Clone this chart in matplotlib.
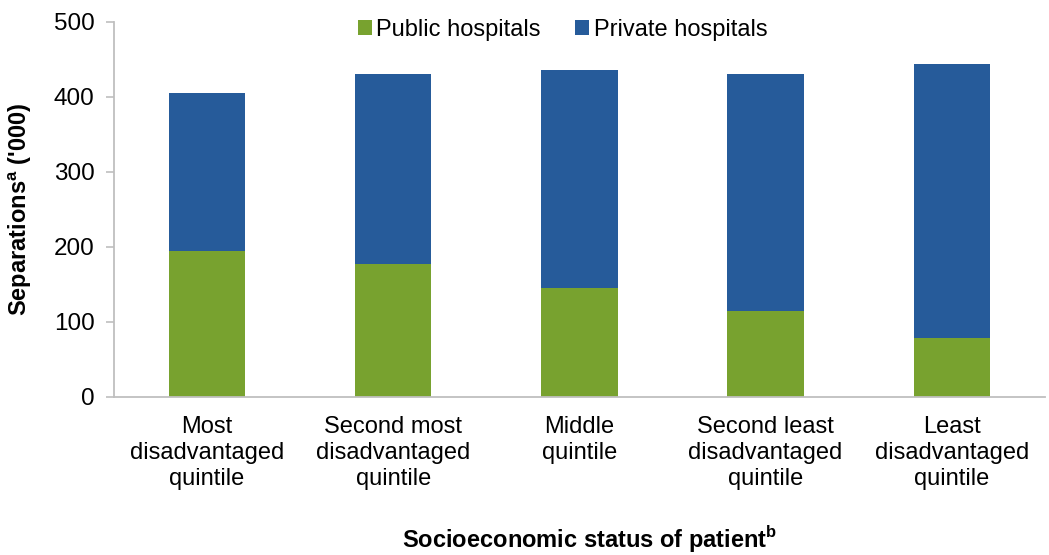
import matplotlib
matplotlib.use("Agg")
import matplotlib.pyplot as plt
import numpy as np

categories = ["Most\ndisadvantaged\nquintile", "Second most\ndisadvantaged\nquintile",
              "Middle\nquintile", "Second least\ndisadvantaged\nquintile",
              "Least\ndisadvantaged\nquintile"]
totals = [405, 430, 436, 430, 444]
public = [195, 177, 145, 115, 79]
private = [t - p for t, p in zip(totals, public)]

plt.rcParams['font.family'] = ['Liberation Sans', 'DejaVu Sans']
plt.rcParams['mathtext.fontset'] = 'custom'
plt.rcParams['mathtext.rm'] = 'Liberation Sans'
plt.rcParams['mathtext.bf'] = 'Liberation Sans:bold'

fig = plt.figure(figsize=(10.49, 5.55), dpi=100)
ax = fig.add_axes([0.1087, 0.2847, 0.8873, 0.6757])

x = np.arange(len(categories))
green = '#78A22F'
blue = '#265B9A'
ax.bar(x, public, width=0.41, color=green, label='Public hospitals')
ax.bar(x, private, width=0.41, bottom=public, color=blue, label='Private hospitals')

ax.set_xlim(-0.5, len(categories) - 0.5)
ax.set_ylim(0, 500)
ax.set_yticks([0, 100, 200, 300, 400, 500])
ax.set_xticks(x)
ax.set_xticklabels(categories, fontsize=17, linespacing=1.22)
ax.tick_params(axis='y', labelsize=17.5, length=6, color='#BFBFBF', width=1.2, pad=8)
ax.tick_params(axis='x', length=0, pad=14)

for s in ['top', 'right']:
    ax.spines[s].set_visible(False)
for s in ['left', 'bottom']:
    ax.spines[s].set_color('#BFBFBF')
    ax.spines[s].set_linewidth(1.3)

ax.set_ylabel(r"Separations$^{\mathbf{a}}$ ('000)", fontsize=17, fontweight='bold', labelpad=14)
fig.text(0.5625, 0.0, r"Socioeconomic status of patient$^{\mathbf{b}}$", fontsize=17,
         fontweight='bold', ha='center', va='bottom')

leg = ax.legend(loc='upper center', bbox_to_anchor=(0.482, 1.065), ncol=2, frameon=False,
                fontsize=17, handlelength=0.6, handleheight=0.6, handletextpad=0.2,
                columnspacing=1.45)

fig.savefig('out.png', dpi=100)
